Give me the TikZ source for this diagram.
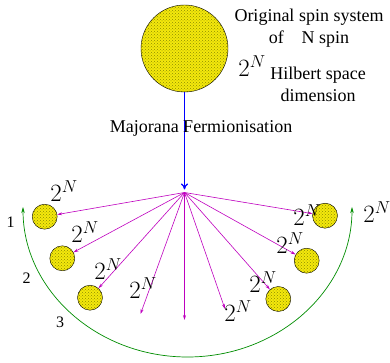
\documentclass[tikz,border=0pt]{standalone}
\usepackage[no-math]{fontspec}
\setmainfont{Liberation Serif}
\usetikzlibrary{arrows.meta,patterns}
\definecolor{fanpink}{RGB}{190,0,190}
\definecolor{arcgreen}{RGB}{0,140,0}
\tikzset{
  ball/.style={circle,draw,inner sep=0pt,minimum size=25pt,
    preaction={fill=yellow!95!black},pattern=crosshatch dots,pattern color=yellow!55!black},
  fan/.style={fanpink,line width=0.6pt,-{Stealth[length=5pt,width=3pt]}},
  dimlabel/.style={font=\fontsize{24}{26}\selectfont},
  txt/.style={font=\fontsize{18}{22}\selectfont,align=center}
}
\begin{document}
\begin{tikzpicture}[x=1pt,y=1pt]
        \useasboundingbox(0,0)rectangle(390,-363);
        % original system
        \node[ball,minimum size=87pt](big)at(184.5,-48.5){};
        \node[txt](orig)at(309,-28){Original spin system\\of\quad N spin};
        \node[txt](hilb)at(318,-84){Hilbert space\\dimension};
        \node[font=\fontsize{27}{29}\selectfont](dimtop)at(252,-66){$2^N$};
        \coordinate(hub)at(184.5,-192.5);
        \draw[blue,line width=1.2pt,-{To[length=6pt,width=7pt]},shorten >=3pt](big.south)--(hub);
        \node[txt](maj)at(201,-128){Majorana Fermionisation};
        % fermion sectors
        \node[ball](l1)at(44.7,-216.7){};
        \node[ball](l2)at(62.3,-258.3){};
        \node[ball](l3)at(90,-297.7){};
        \node[ball](r1)at(325,-215.7){};
        \node[ball](r2)at(306.7,-260.7){};
        \node[ball](r3)at(278.3,-299){};
        \coordinate(e1)at(140.5,-314);
        \coordinate(e2)at(184.5,-320);
        \coordinate(e3)at(225,-309);
        \foreach \t in {l1,l2,l3,e1,e2,e3,r3,r2,r1}
            \draw[fan](hub)--(\t);
        \node[dimlabel](dl1)at(64,-191){$2^N$};
        \node[dimlabel](dl2)at(85,-232){$2^N$};
        \node[dimlabel](dl3)at(108,-269){$2^N$};
        \node[dimlabel](de1)at(143,-288){$2^N$};
        \node[dimlabel](de3)at(238,-311){$2^N$};
        \node[dimlabel](dr3)at(263,-282){$2^N$};
        \node[dimlabel](dr2)at(290,-243){$2^N$};
        \node[dimlabel](dr1)at(307,-215){$2^N$};
        \node[dimlabel](dout)at(377,-212){$2^N$};
        % counting arc
        \coordinate(al)at(23,-207);
        \draw[arcgreen,line width=0.7pt,{Stealth[length=6pt,width=3.5pt]}-{Stealth[length=6pt,width=3.5pt]}]
            (al)arc[start angle=180,end angle=360,x radius=164.5,y radius=150];
        \node[font=\fontsize{16}{18}\selectfont](n1)at(10.5,-222){1};
        \node[font=\fontsize{16}{18}\selectfont](n2)at(26.5,-278){2};
        \node[font=\fontsize{16}{18}\selectfont](n3)at(60,-322){3};
    \end{tikzpicture}
\end{document}
